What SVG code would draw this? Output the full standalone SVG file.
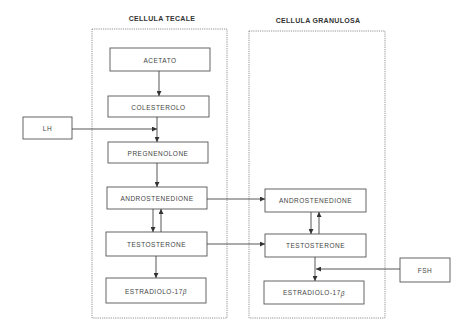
<svg xmlns="http://www.w3.org/2000/svg" width="470" height="320" viewBox="0 0 470 320">
<style>
.cell{fill:none;stroke:#777;stroke-width:0.8;stroke-dasharray:1.2 1}
.box{fill:#fff;stroke:#555;stroke-width:0.9}
.t{font-family:"Liberation Sans",Arial,sans-serif;font-size:6.5px;letter-spacing:0.5px;fill:#444;text-anchor:middle;dominant-baseline:central}
.title{font-family:"Liberation Sans",Arial,sans-serif;font-size:7px;letter-spacing:0.3px;font-weight:bold;fill:#333;text-anchor:middle}
.c{fill:none;stroke:#444;stroke-width:0.9;marker-end:url(#a)}
</style>
<defs>
<marker id="a" viewBox="0 0 10 10" refX="10" refY="5" markerWidth="5" markerHeight="5" orient="auto" markerUnits="userSpaceOnUse">
<path d="M0,0L10,5L0,10z" fill="#333"/>
</marker>
</defs>
<rect width="470" height="320" fill="#fff"/>
<g id="cellula-tecale">
<rect class="cell" x="92" y="29" width="135" height="289"/>
<text class="title" x="162" y="21">CELLULA TECALE</text>
</g>
<g id="cellula-granulosa">
<rect class="cell" x="249" y="31" width="136" height="287"/>
<text class="title" x="318" y="23">CELLULA GRANULOSA</text>
</g>
<g id="acetato"><rect class="box" x="110" y="48" width="100" height="23"/><text class="t" x="160" y="60">ACETATO</text></g>
<g id="colesterolo"><rect class="box" x="108" y="96" width="101" height="21"/><text class="t" x="158.5" y="107">COLESTEROLO</text></g>
<g id="lh"><rect class="box" x="23" y="117" width="49" height="22"/><text class="t" x="47.5" y="128">LH</text></g>
<g id="pregnenolone"><rect class="box" x="108" y="142" width="100" height="21"/><text class="t" x="158" y="153">PREGNENOLONE</text></g>
<g id="androstenedione-t"><rect class="box" x="107" y="187" width="100" height="22"/><text class="t" x="157" y="198">ANDROSTENEDIONE</text></g>
<g id="testosterone-t"><rect class="box" x="106" y="232" width="101" height="24"/><text class="t" x="156.5" y="244">TESTOSTERONE</text></g>
<g id="estradiolo-t"><rect class="box" x="106" y="278" width="100" height="25"/><text class="t" x="156" y="291">ESTRADIOLO-17<tspan font-style="italic">β</tspan></text></g>
<g id="androstenedione-g"><rect class="box" x="265" y="189" width="101" height="23"/><text class="t" x="315.5" y="200.5">ANDROSTENEDIONE</text></g>
<g id="testosterone-g"><rect class="box" x="265" y="234" width="101" height="23"/><text class="t" x="315.5" y="245.5">TESTOSTERONE</text></g>
<g id="estradiolo-g"><rect class="box" x="264" y="281" width="100" height="23"/><text class="t" x="314" y="292.5">ESTRADIOLO-17<tspan font-style="italic">β</tspan></text></g>
<g id="fsh"><rect class="box" x="400" y="258" width="50" height="24"/><text class="t" x="425" y="270">FSH</text></g>
<g id="connectors">
<path class="c" d="M159,71V96"/>
<path class="c" d="M157,117V142"/>
<path class="c" d="M72,129H157"/>
<path class="c" d="M157,163V187"/>
<path class="c" d="M153,209V232"/>
<path class="c" d="M161,232V209"/>
<path class="c" d="M156,256V278"/>
<path class="c" d="M207,199H265"/>
<path class="c" d="M207,244H265"/>
<path class="c" d="M311,212V234"/>
<path class="c" d="M319,234V212"/>
<path class="c" d="M315,257V281"/>
<path class="c" d="M400,269H316"/>
</g>
</svg>
